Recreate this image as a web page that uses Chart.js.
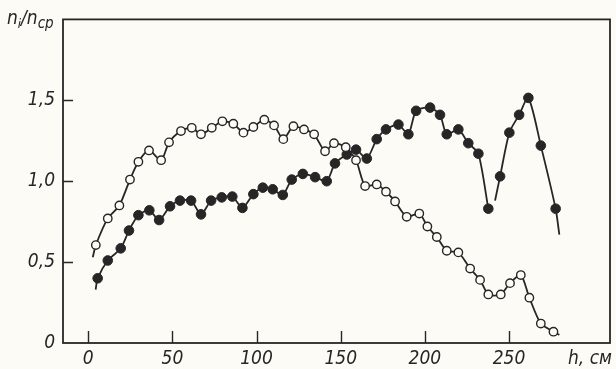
<!DOCTYPE html>
<html>
<head>
<meta charset="utf-8">
<script src="https://cdn.jsdelivr.net/npm/chart.js@4"></script>
<style>
  html,body{margin:0;padding:0;background:#fcfbf6;}
  #wrap{width:616px;height:369px;}
</style>
</head>
<body>
<div id="wrap"><canvas id="chart" width="616" height="369"></canvas></div>
<script>
// === данные (h, см  ->  n_i/n_ср) ===
// светлые кружки
const openH = [2.7, 4.5, 11.6, 18.5, 24.8, 29.8, 36.1, 43.3, 48.0, 55.1, 61.5, 67.0, 73.4, 79.7, 86.2, 92.2,
  98.1, 104.6, 110.4, 115.9, 121.9, 128.2, 134.2, 140.7, 146.0, 153.0, 159.1, 164.5, 171.4, 176.9, 182.3,
  189.2, 196.7, 201.5, 207.1, 213.0, 219.9, 226.9, 232.8, 237.7, 245.1, 250.6, 257.0, 262.1, 268.9, 276.4, 279.9];
const openN = [0.53, 0.605, 0.77, 0.85, 1.01, 1.12, 1.19, 1.13, 1.24, 1.31, 1.33, 1.29, 1.33, 1.37, 1.355, 1.30,
  1.335, 1.38, 1.345, 1.26, 1.34, 1.32, 1.29, 1.185, 1.235, 1.21, 1.13, 0.97, 0.98, 0.935, 0.875,
  0.78, 0.80, 0.72, 0.655, 0.57, 0.56, 0.46, 0.39, 0.30, 0.30, 0.37, 0.42, 0.28, 0.12, 0.07, 0.05];
const openBare = [0, 46];            // концы линии без маркера

// тёмные кружки
const filledH = [4.4, 5.6, 11.6, 19.3, 24.2, 29.8, 36.3, 42.1, 48.6, 54.5, 61.1, 67.0, 73.0, 79.3, 85.6, 91.6,
  98.1, 103.7, 109.6, 115.6, 120.9, 127.5, 134.8, 141.7, 146.6, 153.6, 159.1, 165.5, 171.4, 176.9, 184.3,
  190.2, 194.8, 203.1, 209.0, 213.0, 219.9, 225.8, 231.8, 237.7, 239.7, 241.7, 244.7, 250.2, 256.0, 261.5,
  268.9, 277.7, 279.9];
const filledN = [0.33, 0.40, 0.51, 0.585, 0.695, 0.79, 0.82, 0.76, 0.845, 0.88, 0.88, 0.795, 0.88, 0.90, 0.905, 0.835,
  0.92, 0.96, 0.95, 0.915, 1.01, 1.045, 1.025, 1.00, 1.11, 1.165, 1.195, 1.14, 1.26, 1.32, 1.35,
  1.29, 1.435, 1.455, 1.41, 1.29, 1.32, 1.235, 1.17, 0.83, null, 0.88, 1.03, 1.30, 1.41, 1.515,
  1.22, 0.83, 0.67];
const filledBare = [0, 40, 41, 48];

// оси
const xTicks = [0, 50, 100, 150, 200, 250];
const xTickLabels = ['0', '50', '100', '150', '200', '250'];
const yTicks = [0, 0.5, 1.0, 1.5];
const yTickLabels = ['0', '0,5', '1,0', '1,5'];

const INK = '#262626';
const PAPER = '#fcfbf6';
const FONT = '"DejaVu Sans Condensed",sans-serif';

const pts = (hs, ns) => hs.map((h, i) => ({x: h, y: ns[i]}));

// === рамка, внутренние засечки, подписи осей ===
const framePlugin = {
  id: 'frame',
  afterDraw(chart) {
    const {ctx, chartArea: a, scales: {x, y}} = chart;
    ctx.save();
    ctx.strokeStyle = INK;
    ctx.lineWidth = 1.8;
    ctx.strokeRect(a.left, a.top, a.right - a.left, a.bottom - a.top);
    ctx.beginPath();
    xTicks.forEach(v => {
      const px = Math.round(x.getPixelForValue(v)) + 0.5;
      ctx.moveTo(px, a.bottom); ctx.lineTo(px, a.bottom - 12);
    });
    yTicks.slice(1).forEach(v => {
      const py = Math.round(y.getPixelForValue(v)) + 0.5;
      ctx.moveTo(a.left, py); ctx.lineTo(a.left + 10, py);
    });
    ctx.lineWidth = 1.4;
    ctx.stroke();

    ctx.fillStyle = INK;
    ctx.textBaseline = 'alphabetic';
    // n_i / n_ср
    let cx = 7;
    const put = (t, size, dy) => {
      ctx.font = `italic ${size}px ${FONT}`;
      ctx.fillText(t, cx, 24 + dy);
      cx += ctx.measureText(t).width;
    };
    put('n', 19, 0); put('i', 13, 4); put('/', 19, 0); put('n', 19, 0); put('ср', 15, 4);
    // h, см
    ctx.font = `italic 19px ${FONT}`;
    ctx.textAlign = 'right';
    ctx.fillText('h, см', 612, 364);
    ctx.restore();
  }
};

new Chart(document.getElementById('chart'), {
  type: 'line',
  data: {
    datasets: [
      {
        data: pts(openH, openN),
        borderColor: INK,
        borderWidth: 1.8,
        tension: 0.25,
        pointRadius: c => openBare.includes(c.dataIndex) ? 0 : 4.2,
        pointBackgroundColor: PAPER,
        pointBorderColor: INK,
        pointBorderWidth: 1.4
      },
      {
        data: pts(filledH, filledN),
        borderColor: INK,
        borderWidth: 1.8,
        tension: 0.25,
        spanGaps: false,
        pointRadius: c => filledBare.includes(c.dataIndex) ? 0 : 4.8,
        pointBackgroundColor: INK,
        pointBorderColor: INK,
        pointBorderWidth: 1
      }
    ]
  },
  options: {
    responsive: false,
    animation: false,
    events: [],
    layout: {padding: {left: 0, top: 10, right: 6, bottom: 0}},
    plugins: {legend: {display: false}, tooltip: {enabled: false}},
    scales: {
      x: {
        type: 'linear',
        min: -15, max: 310,
        afterFit: s => { s.height = 26; },
        afterBuildTicks: s => { s.ticks = xTicks.map(v => ({value: v})); },
        grid: {display: false, drawTicks: false},
        border: {display: false},
        ticks: {
          padding: 5,
          color: INK,
          font: {family: FONT, size: 19, style: 'italic'},
          callback: v => xTickLabels[xTicks.indexOf(v)]
        }
      },
      y: {
        min: 0, max: 2.0,
        afterFit: s => { s.width = 63; },
        afterBuildTicks: s => { s.ticks = yTicks.map(v => ({value: v})); },
        grid: {display: false, drawTicks: false},
        border: {display: false},
        ticks: {
          padding: 8,
          color: INK,
          font: {family: FONT, size: 19, style: 'italic'},
          callback: v => yTickLabels[yTicks.indexOf(v)]
        }
      }
    }
  },
  plugins: [framePlugin]
});
</script>
</body>
</html>
